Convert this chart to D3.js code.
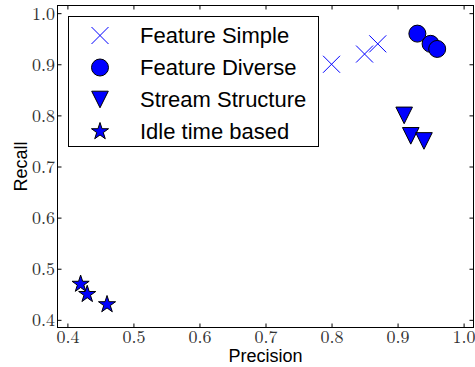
<!DOCTYPE html>
<html><head><meta charset="utf-8">
<script src="https://cdn.jsdelivr.net/npm/d3@7"></script>
<style>body{margin:0;background:#fff}svg{display:block}
.tl text{font-family:'Latin Modern Roman','CMU Serif','Liberation Serif',serif !important;font-size:18px !important;fill:#333 !important}</style>
</head><body>
<svg id="c" width="475" height="367"></svg>
<script>
const seriesNames = ["Feature Simple", "Feature Diverse", "Stream Structure", "Idle time based"];
const featureSimpleX = [0.80, 0.85, 0.87];
const featureSimpleY = [0.90, 0.92, 0.94];
const featureDiverseX = [0.93, 0.95, 0.96];
const featureDiverseY = [0.96, 0.94, 0.93];
const streamStructureX = [0.91, 0.92, 0.94];
const streamStructureY = [0.80, 0.76, 0.75];
const idleTimeX = [0.42, 0.43, 0.46];
const idleTimeY = [0.47, 0.45, 0.43];
const xTicks = [0.4, 0.5, 0.6, 0.7, 0.8, 0.9, 1.0];
const yTicks = [0.4, 0.5, 0.6, 0.7, 0.8, 0.9, 1.0];

const svg = d3.select("#c");
const L = 57.5, R = 473.5, T = 5.5, B = 327.5;
const x = d3.scaleLinear().domain([0.385, 1.015]).range([L, R]);
const y = d3.scaleLinear().domain([0.385, 1.015]).range([B, T]);
const blue = "#0000ff";

function xPath(s){return `M${-s},${-s}L${s},${s}M${-s},${s}L${s},${-s}`;}
function triDown(s){return `M${-s},${-s}L${s},${-s}L0,${s}Z`;}
function star(R){
  const r = R*0.382; let p=[];
  for(let i=0;i<10;i++){const a=-Math.PI/2+i*Math.PI/5;const rr=i%2?r:R;p.push([rr*Math.cos(a),rr*Math.sin(a)]);}
  return "M"+p.map(d=>d.join(",")).join("L")+"Z";
}
const markers = [
  {d: xPath(8.5), fill:"none", stroke:blue, sw:1},
  {circle:8.5, fill:blue, stroke:"#000", sw:1},
  {d: triDown(8.3), fill:blue, stroke:"#000", sw:1},
  {d: star(9), fill:blue, stroke:"#000", sw:1}
];
function drawMarker(g, m){
  if(m.circle) g.append("circle").attr("r",m.circle).attr("fill",m.fill).attr("stroke",m.stroke).attr("stroke-width",m.sw);
  else g.append("path").attr("d",m.d).attr("fill",m.fill).attr("stroke",m.stroke).attr("stroke-width",m.sw).attr("stroke-linejoin","miter");
}

const data = [
  featureSimpleX.map((v,i)=>[v,featureSimpleY[i]]),
  featureDiverseX.map((v,i)=>[v,featureDiverseY[i]]),
  streamStructureX.map((v,i)=>[v,streamStructureY[i]]),
  idleTimeX.map((v,i)=>[v,idleTimeY[i]])
];

svg.append("rect").attr("x",L).attr("y",T).attr("width",R-L).attr("height",B-T)
  .attr("fill","none").attr("stroke","#000").attr("stroke-width",1);

const fmt = d3.format(".1f");
const axB = svg.append("g").attr("class","tl").attr("transform",`translate(0,${B})`)
  .call(d3.axisBottom(x).tickValues(xTicks).tickFormat(fmt).tickSizeInner(-4).tickSizeOuter(0).tickPadding(3));
const axT = svg.append("g").attr("transform",`translate(0,${T})`)
  .call(d3.axisTop(x).tickValues(xTicks).tickFormat("").tickSizeInner(-4).tickSizeOuter(0));
const axL = svg.append("g").attr("class","tl").attr("transform",`translate(${L},0)`)
  .call(d3.axisLeft(y).tickValues(yTicks).tickFormat(fmt).tickSizeInner(-4).tickSizeOuter(0).tickPadding(2.5));
const axR = svg.append("g").attr("transform",`translate(${R},0)`)
  .call(d3.axisRight(y).tickValues(yTicks).tickFormat("").tickSizeInner(-4).tickSizeOuter(0));
[axB,axT,axL,axR].forEach(a=>{a.select(".domain").remove();a.selectAll("line").attr("stroke","#000");});
axB.selectAll("text").attr("dy","0.68em");
axL.selectAll("text").attr("dy","0.33em");

data.forEach((pts,si)=>{
  pts.forEach(p=>{
    const g = svg.append("g").attr("transform",`translate(${x(p[0])},${y(p[1])})`);
    drawMarker(g, markers[si]);
  });
});

svg.append("text").attr("x",(L+R)/2).attr("y",362).attr("text-anchor","middle")
  .attr("font-family","'Liberation Sans',Arial,sans-serif").attr("font-size",18).text("Precision");
svg.append("text").attr("transform",`translate(27,${(T+B)/2}) rotate(-90)`).attr("text-anchor","middle")
  .attr("font-family","'Liberation Sans',Arial,sans-serif").attr("font-size",18).text("Recall");

const lg = svg.append("g");
lg.append("rect").attr("x",68.5).attr("y",16.5).attr("width",250).attr("height",130)
  .attr("fill","#fff").attr("stroke","#000").attr("stroke-width",1);
const rowY = [35.5, 67.5, 99.5, 131.5];
seriesNames.forEach((n,i)=>{
  const g = lg.append("g").attr("transform",`translate(100,${rowY[i]})`);
  drawMarker(g, markers[i]);
  lg.append("text").attr("x",140).attr("y",rowY[i]+7.9)
    .attr("font-family","'Liberation Sans',Arial,sans-serif").attr("font-size",22).attr("fill","#000").text(n);
});
</script>
</body></html>
